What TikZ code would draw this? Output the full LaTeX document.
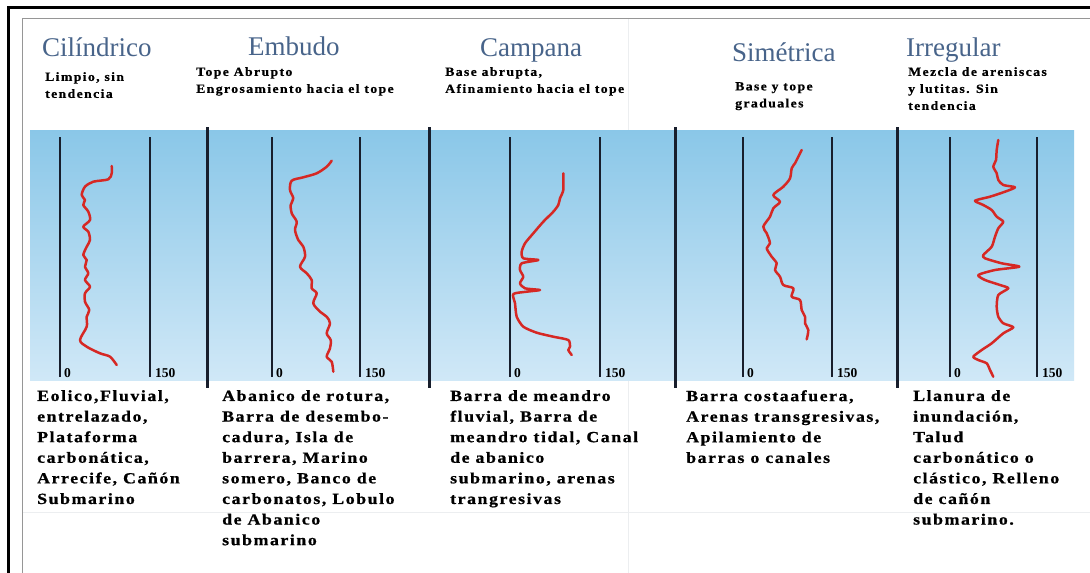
\documentclass[tikz,border=0pt]{standalone}
\usepackage{fontspec}
\setmainfont{Liberation Serif}
\newfontfamily\lsfont[LetterSpace=10,FakeStretch=1.15,FakeBold=0.8]{Liberation Serif}
\newfontfamily\subfont[LetterSpace=11,FakeStretch=1.1,FakeBold=0.6]{Liberation Serif}
\definecolor{hdrblue}{RGB}{72,100,138}
\definecolor{bandtop}{RGB}{138,199,232}
\definecolor{bandbot}{RGB}{208,232,247}
\definecolor{logred}{RGB}{214,40,36}
\definecolor{trackc}{RGB}{24,30,44}
\definecolor{framegrey}{RGB}{150,150,150}
\definecolor{faint}{RGB}{236,238,240}
\tikzset{
  hdr/.style={anchor=base west, inner sep=0pt, text=hdrblue, font=\fontsize{27}{32}\selectfont},
  subtxt/.style={anchor=north west, inner sep=0pt, align=left, font=\subfont\bfseries\fontsize{12.5}{17}\selectfont},
  bottxt/.style={anchor=north west, inner sep=0pt, align=left, font=\lsfont\bfseries\fontsize{15.5}{20.6}\selectfont},
  scalelbl/.style={anchor=base west, inner sep=0pt, font=\bfseries\fontsize{13.5}{15}\selectfont},
  divider/.style={draw=trackc, line width=3pt},
  track/.style={draw=trackc, line width=2.4pt},
  logcurve/.style={draw=logred, line width=2.5pt, line cap=round, line join=round}
}
\begin{document}
\begin{tikzpicture}[x=1pt,y=-1pt]
\useasboundingbox (0,0) rectangle (1090,573);
\fill[white] (0,0) rectangle (1090,573);
% frames
\draw[faint, line width=1pt] (628,18) -- (628,573);
\draw[faint, line width=1pt] (22,512) -- (1090,512);
\draw[framegrey, line width=1pt] (22.5,573) -- (22.5,18.5) -- (1090,18.5);
\draw[black, line width=3pt] (8,573) -- (8,7.5) -- (1090,7.5);
% band
\shade[top color=bandtop, bottom color=bandbot] (30,130) rectangle (1074,380);
% dividers
\foreach \x in {207,429,675,897} { \draw[divider] (\x,127) -- (\x,388); }
% tracks
\foreach \x in {60,150,272,360,510,600,743,832,950,1037} { \draw[track] (\x,137) -- (\x,377); }
% scale labels
\node[scalelbl] (z1) at (64,377) {0};
\node[scalelbl] (f1) at (155,377) {150};
\node[scalelbl] (z2) at (276,377) {0};
\node[scalelbl] (f2) at (365,377) {150};
\node[scalelbl] (z3) at (514,377) {0};
\node[scalelbl] (f3) at (605,377) {150};
\node[scalelbl] (z4) at (747,377) {0};
\node[scalelbl] (f4) at (837,377) {150};
\node[scalelbl] (z5) at (954,377) {0};
\node[scalelbl] (f5) at (1042,377) {150};
% curves
\draw[logcurve] plot[smooth, tension=0.5] coordinates {(111.7,166) (111.7,173.3) (108.3,179.3) (93.3,181.7) (85,186.7) (81.7,195) (85,200) (83.3,205) (88.3,211.7) (90,220) (83.3,226.7) (88.3,231.7) (90,240) (86.7,246.7) (83.3,255) (86.7,260) (85,266.7) (88.3,273.3) (85,280) (90,286.7) (85,293.3) (85,301.7) (89.3,310) (86.7,316.7) (86.7,326.7) (80,340) (86.7,346.7) (100,353.3) (110,356.7) (116.7,365)};
\draw[logcurve] plot[smooth, tension=0.5] coordinates {(331.7,160.7) (326.7,166.7) (316.7,173.3) (303.3,177.3) (291.7,180.7) (290,190) (293.3,198.3) (290.7,205) (291.7,213.3) (296.7,221.7) (295,230) (298.3,240) (303.3,246.7) (305,256.7) (300,266.7) (306.7,273.3) (311.7,280) (311.7,288.3) (316.7,293.3) (313.3,303.3) (320,311.7) (326.7,316.7) (330,323.3) (326.7,333.3) (330.7,340) (330,348.3) (326.7,356.7) (331.7,361.7) (333.3,371.7)};
\draw[logcurve] plot[smooth, tension=0.4] coordinates {(563.3,173.3) (563.3,190) (560,198.3) (558.3,205) (553.3,211.7) (543.3,221.7) (533.3,233.3) (525,243.3) (521.7,251.7) (523.3,258.3) (538.3,260) (521.7,263.3) (520,270) (523.3,276.7) (520,283.3) (525,288.3) (540,290) (526.7,291.7) (513.3,294) (515,303.3) (516.7,316.7) (523.3,326.7) (536.7,332.7) (553.3,336.7) (568.3,340) (570,346.7) (568.3,350) (571.7,355)};
\draw[logcurve] plot[smooth, tension=0.5] coordinates {(801.7,150) (798.3,156.7) (795,163.3) (791.7,168.3) (790,178.3) (783.3,186.7) (773.3,195) (780,201.7) (773.3,208.3) (770,216.7) (763.3,226.7) (766.7,233.3) (770,243.3) (766.7,248.3) (771.7,256.7) (776.7,263.3) (775,270) (780,276.7) (783.3,285) (793.3,288.3) (791.7,296.7) (800,300) (801.7,310) (805,316.7) (805,323.3) (808.3,330) (806.7,339.3)};
\draw[logcurve] plot[smooth, tension=0.4] coordinates {(998.3,140) (996.7,150) (996,160) (993.3,166.7) (996.7,173.3) (998.3,180) (1003.3,185) (1015,187.3) (1005,191.7) (990,196.7) (975,200.7) (983.3,205) (991.7,210) (996.7,216.7) (1003.3,221.7) (998.3,228.3) (995,236.7) (991.7,246.7) (983.3,255) (985,258.3) (1001.7,263.3) (1019.3,266.7) (995,270) (978.3,275) (985,280) (1000,285) (1008.3,288.3) (998.3,295) (996.7,306.7) (998.3,316.7) (1003.3,323.3) (1013.3,327.3) (1003.3,333.3) (991.7,343.3) (981.7,350) (973.3,356.7) (978.3,360) (986.7,363.3) (990,370) (993.3,376.7)};
% headers
\node[hdr] (h1) at (42,56) {Cilíndrico};
\node[hdr] (h2) at (248,55) {Embudo};
\node[hdr] (h3) at (480,56) {Campana};
\node[hdr] (h4) at (732,61) {Simétrica};
\node[hdr] (h5) at (906,56) {Irregular};
% sub headers
\node[subtxt] (s1) at (45,72) {Limpio, sin\\tendencia};
\node[subtxt] (s2) at (196,67) {Tope Abrupto\\Engrosamiento hacia el tope};
\node[subtxt] (s3) at (445,67) {Base abrupta,\\Afinamiento hacia el tope};
\node[subtxt] (s4) at (735,82) {Base y tope\\graduales};
\node[subtxt] (s5) at (908,67) {Mezcla de areniscas\\y lutitas. Sin\\tendencia};
% bottom texts
\node[bottxt] (b1) at (37,390) {Eolico,Fluvial,\\entrelazado,\\Plataforma\\carbonática,\\Arrecife, Cañón\\Submarino};
\node[bottxt] (b2) at (222,390) {Abanico de rotura,\\Barra de desembo-\\cadura, Isla de\\barrera, Marino\\somero, Banco de\\carbonatos, Lobulo\\de Abanico\\submarino};
\node[bottxt] (b3) at (450,390) {Barra de meandro\\fluvial, Barra de\\meandro tidal, Canal\\de abanico\\submarino, arenas\\trangresivas};
\node[bottxt] (b4) at (686,390) {Barra costaafuera,\\Arenas transgresivas,\\Apilamiento de\\barras o canales};
\node[bottxt] (b5) at (913,390) {Llanura de\\inundación,\\Talud\\carbonático o\\clástico, Relleno\\de cañón\\submarino.};
\end{tikzpicture}
\end{document}
